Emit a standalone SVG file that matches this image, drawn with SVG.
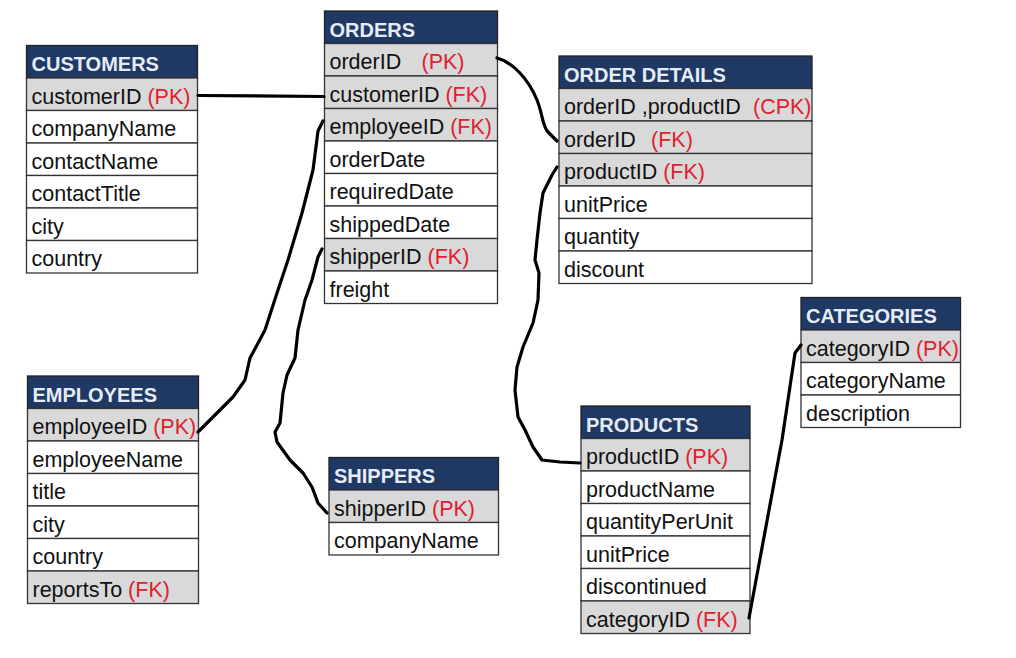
<svg xmlns="http://www.w3.org/2000/svg" width="1016" height="658" viewBox="0 0 1016 658">
<style>
.hdr{fill:#1F3864;stroke:#222;stroke-width:1.3}
.key{fill:#D9D9D9;stroke:#333;stroke-width:1.3}
.row{fill:#FFFFFF;stroke:#333;stroke-width:1.3}
.ht{font-family:"Liberation Sans",Arial,sans-serif;font-weight:bold;font-size:20px;fill:#E6ECF5}
.t{font-family:"Liberation Sans",Arial,sans-serif;font-size:21.5px;fill:#111}
.r{fill:#E0202E}
.conn{fill:none;stroke:#000;stroke-width:3.2;stroke-linecap:round;stroke-linejoin:round}
</style>
<rect width="1016" height="658" fill="#FFFFFF"/>

<g id="customers" transform="translate(26.5,45.5)">
<rect class="hdr" x="0" y="0" width="171" height="32.5"/>
<rect class="key" x="0" y="32.5" width="171" height="32.5"/>
<rect class="row" x="0" y="65" width="171" height="32.5"/>
<rect class="row" x="0" y="97.5" width="171" height="32.5"/>
<rect class="row" x="0" y="130" width="171" height="32.5"/>
<rect class="row" x="0" y="162.5" width="171" height="32.5"/>
<rect class="row" x="0" y="195" width="171" height="32.5"/>
<text class="ht" x="5" y="25.8">CUSTOMERS</text>
<text class="t" x="5" y="58.3">customerID <tspan class="r">(PK)</tspan></text>
<text class="t" x="5" y="90.8">companyName</text>
<text class="t" x="5" y="123.3">contactName</text>
<text class="t" x="5" y="155.8">contactTitle</text>
<text class="t" x="5" y="188.3">city</text>
<text class="t" x="5" y="220.8">country</text>
</g>

<g id="orders" transform="translate(324.5,11)">
<rect class="hdr" x="0" y="0" width="173" height="32.5"/>
<rect class="key" x="0" y="32.5" width="173" height="32.5"/>
<rect class="key" x="0" y="65" width="173" height="32.5"/>
<rect class="key" x="0" y="97.5" width="173" height="32.5"/>
<rect class="row" x="0" y="130" width="173" height="32.5"/>
<rect class="row" x="0" y="162.5" width="173" height="32.5"/>
<rect class="row" x="0" y="195" width="173" height="32.5"/>
<rect class="key" x="0" y="227.5" width="173" height="32.5"/>
<rect class="row" x="0" y="260" width="173" height="32.5"/>
<text class="ht" x="5" y="25.8">ORDERS</text>
<text class="t" x="5" y="58.3">orderID<tspan class="r" x="97">(PK)</tspan></text>
<text class="t" x="5" y="90.8">customerID <tspan class="r">(FK)</tspan></text>
<text class="t" x="5" y="123.3">employeeID <tspan class="r">(FK)</tspan></text>
<text class="t" x="5" y="155.8">orderDate</text>
<text class="t" x="5" y="188.3">requiredDate</text>
<text class="t" x="5" y="220.8">shippedDate</text>
<text class="t" x="5" y="253.3">shipperID <tspan class="r">(FK)</tspan></text>
<text class="t" x="5" y="285.8">freight</text>
</g>

<g id="order-details" transform="translate(559,56)">
<rect class="hdr" x="0" y="0" width="253" height="32.5"/>
<rect class="key" x="0" y="32.5" width="253" height="32.5"/>
<rect class="key" x="0" y="65" width="253" height="32.5"/>
<rect class="key" x="0" y="97.5" width="253" height="32.5"/>
<rect class="row" x="0" y="130" width="253" height="32.5"/>
<rect class="row" x="0" y="162.5" width="253" height="32.5"/>
<rect class="row" x="0" y="195" width="253" height="32.5"/>
<text class="ht" x="5" y="25.8">ORDER DETAILS</text>
<text class="t" x="5" y="58.3">orderID ,productID<tspan class="r" x="194">(CPK)</tspan></text>
<text class="t" x="5" y="90.8">orderID<tspan class="r" x="92">(FK)</tspan></text>
<text class="t" x="5" y="123.3">productID <tspan class="r">(FK)</tspan></text>
<text class="t" x="5" y="155.8">unitPrice</text>
<text class="t" x="5" y="188.3">quantity</text>
<text class="t" x="5" y="220.8">discount</text>
</g>

<g id="categories" transform="translate(801,297.5)">
<rect class="hdr" x="0" y="0" width="159.5" height="32.5"/>
<rect class="key" x="0" y="32.5" width="159.5" height="32.5"/>
<rect class="row" x="0" y="65" width="159.5" height="32.5"/>
<rect class="row" x="0" y="97.5" width="159.5" height="32.5"/>
<text class="ht" x="5" y="25.8">CATEGORIES</text>
<text class="t" x="5" y="58.3">categoryID <tspan class="r">(PK)</tspan></text>
<text class="t" x="5" y="90.8">categoryName</text>
<text class="t" x="5" y="123.3">description</text>
</g>

<g id="products" transform="translate(581,406)">
<rect class="hdr" x="0" y="0" width="169" height="32.5"/>
<rect class="key" x="0" y="32.5" width="169" height="32.5"/>
<rect class="row" x="0" y="65" width="169" height="32.5"/>
<rect class="row" x="0" y="97.5" width="169" height="32.5"/>
<rect class="row" x="0" y="130" width="169" height="32.5"/>
<rect class="row" x="0" y="162.5" width="169" height="32.5"/>
<rect class="key" x="0" y="195" width="169" height="32.5"/>
<text class="ht" x="5" y="25.8">PRODUCTS</text>
<text class="t" x="5" y="58.3">productID <tspan class="r">(PK)</tspan></text>
<text class="t" x="5" y="90.8">productName</text>
<text class="t" x="5" y="123.3">quantityPerUnit</text>
<text class="t" x="5" y="155.8">unitPrice</text>
<text class="t" x="5" y="188.3">discontinued</text>
<text class="t" x="5" y="220.8">categoryID <tspan class="r">(FK)</tspan></text>
</g>

<g id="employees" transform="translate(27.5,376)">
<rect class="hdr" x="0" y="0" width="171" height="32.5"/>
<rect class="key" x="0" y="32.5" width="171" height="32.5"/>
<rect class="row" x="0" y="65" width="171" height="32.5"/>
<rect class="row" x="0" y="97.5" width="171" height="32.5"/>
<rect class="row" x="0" y="130" width="171" height="32.5"/>
<rect class="row" x="0" y="162.5" width="171" height="32.5"/>
<rect class="key" x="0" y="195" width="171" height="32.5"/>
<text class="ht" x="5" y="25.8">EMPLOYEES</text>
<text class="t" x="5" y="58.3">employeeID <tspan class="r">(PK)</tspan></text>
<text class="t" x="5" y="90.8">employeeName</text>
<text class="t" x="5" y="123.3">title</text>
<text class="t" x="5" y="155.8">city</text>
<text class="t" x="5" y="188.3">country</text>
<text class="t" x="5" y="220.8">reportsTo <tspan class="r">(FK)</tspan></text>
</g>

<g id="shippers" transform="translate(329,457.5)">
<rect class="hdr" x="0" y="0" width="169.5" height="32.5"/>
<rect class="key" x="0" y="32.5" width="169.5" height="32.5"/>
<rect class="row" x="0" y="65" width="169.5" height="32.5"/>
<text class="ht" x="5" y="25.8">SHIPPERS</text>
<text class="t" x="5" y="58.3">shipperID <tspan class="r">(PK)</tspan></text>
<text class="t" x="5" y="90.8">companyName</text>
</g>

<g id="connectors">
<path class="conn" d="M198,95.5 L324,96.5"/>
<path class="conn" d="M497,58 C512,62 528,78 537,100 C543,115 542,125 548,132 L557,141"/>
<path class="conn" d="M323,121 L318,131 L313,170 L302,213 L288,260 L277,293 L265,330 L250,358 L245,380 L233,397 L227,403 L213,417 L198,432"/>
<path class="conn" d="M322,249 L318,257 L312,280 L305,300 L298,330 L295,358 L287,375 L283,393 L280,423 L275,432 L277,442 L290,460 L303,473 L312,487 L318,503 L327,513"/>
<path class="conn" d="M557,167 L552,175 L543,193 L540,213 L537,240 L535,260 L539,273 L538,300 L533,323 L523,347 L517,367 L515,390 L518,417 L525,430 L533,447 L542,460 L560,462 L580,463"/>
<path class="conn" d="M749,618 L782,440 L795,353 L801,345"/>
</g>
</svg>
